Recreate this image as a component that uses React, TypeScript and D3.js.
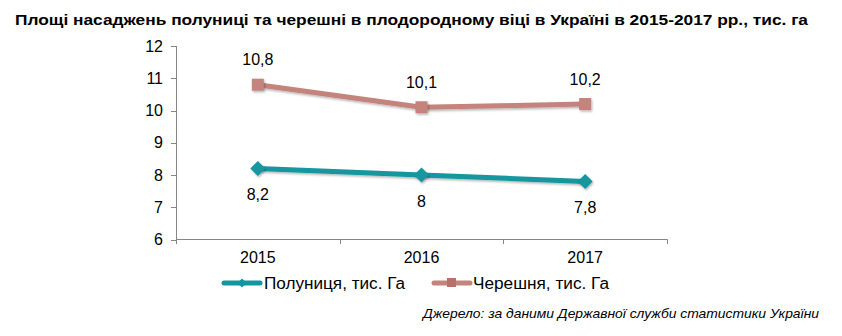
import React from "react";
import * as d3 from "d3";

const years = ["2015", "2016", "2017"];
const strawberry = [8.2, 8.0, 7.8];
const cherry = [10.8, 10.1, 10.2];
const strawberryLabels = ["8,2", "8", "7,8"];
const cherryLabels = ["10,8", "10,1", "10,2"];
const yTicks = [6, 7, 8, 9, 10, 11, 12];
const seriesNames = ["Полуниця, тис. Га", "Черешня, тис. Га"];
const title = "Площі насаджень полуниці та черешні в плодородному віці в Україні в 2015-2017 рр., тис. га";
const source = "Джерело: за даними Державної служби статистики України";

const W = 842;
const H = 336;
const TEAL = "#12969f";
const ROSE = "#c4837b";
const FONT = "Liberation Sans, Arial, sans-serif";
const FS = 16;

export default function App() {
  const x = d3.scaleBand<string>().domain(years).range([176, 667]);
  const y = d3.scaleLinear().domain([6, 12]).range([239.5, 46]);
  const cx = (d: string) => (x(d) as number) + x.bandwidth() / 2;
  const line = d3
    .line<number>()
    .x((_, i) => cx(years[i]))
    .y((v) => y(v));
  const boundaries = [...years.map((d) => x(d) as number), 667];

  return (
    <svg
      width={W}
      height={H}
      style={{ position: "absolute", left: 0, top: 0, background: "#fff" }}
      fontFamily={FONT}
    >
      <defs>
        <filter id="sh" x="-50%" y="-50%" width="200%" height="200%">
          <feDropShadow dx="1" dy="1.5" stdDeviation="1" floodColor="#000" floodOpacity="0.3" />
        </filter>
      </defs>
      <rect width={W} height={H} fill="#fff" />
      <text
        x={15}
        y={25}
        fontSize={14.5}
        fontWeight="bold"
        fill="#000"
        textLength={793}
        lengthAdjust="spacingAndGlyphs"
      >
        {title}
      </text>

      {/* y axis */}
      <line x1={176.5} x2={176.5} y1={46} y2={240} stroke="#868686" />
      {yTicks.map((t) => (
        <g key={t}>
          <line x1={171} x2={176.5} y1={Math.round(y(t)) + 0.5} y2={Math.round(y(t)) + 0.5} stroke="#868686" />
          <text x={163} y={y(t)} dy="0.35em" textAnchor="end" fontSize={FS} fill="#000">
            {t}
          </text>
        </g>
      ))}
      {/* x axis */}
      <line x1={176} x2={667.5} y1={239.5} y2={239.5} stroke="#868686" />
      {boundaries.map((b, i) => (
        <line key={i} x1={Math.round(b) + 0.5} x2={Math.round(b) + 0.5} y1={239.5} y2={244} stroke="#868686" />
      ))}
      {years.map((d) => (
        <text key={d} x={cx(d)} y={263} textAnchor="middle" fontSize={FS} fill="#000">
          {d}
        </text>
      ))}

      {/* cherry */}
      <path d={line(cherry) as string} fill="none" stroke={ROSE} strokeWidth={5} filter="url(#sh)" />
      {cherry.map((v, i) => (
        <rect
          key={i}
          x={cx(years[i]) - 6}
          y={y(v) - 6}
          width={12}
          height={12}
          fill={ROSE}
          filter="url(#sh)"
        />
      ))}
      {cherry.map((v, i) => (
        <text key={i} x={cx(years[i])} y={y(v) - 19.5} textAnchor="middle" fontSize={FS} fill="#000">
          {cherryLabels[i]}
        </text>
      ))}

      {/* strawberry */}
      <path d={line(strawberry) as string} fill="none" stroke={TEAL} strokeWidth={5} filter="url(#sh)" />
      {strawberry.map((v, i) => (
        <path
          key={i}
          d={`M${cx(years[i])},${y(v) - 7.5}l7.5,7.5l-7.5,7.5l-7.5,-7.5z`}
          fill={TEAL}
          filter="url(#sh)"
        />
      ))}
      {strawberry.map((v, i) => (
        <text key={i} x={cx(years[i])} y={y(v) + 31.5} textAnchor="middle" fontSize={FS} fill="#000">
          {strawberryLabels[i]}
        </text>
      ))}

      {/* legend */}
      <g>
        <line x1={224} x2={260} y1={283} y2={283} stroke={TEAL} strokeWidth={5} strokeLinecap="round" />
        <path d={`M242,${283 - 4.5}l4.5,4.5l-4.5,4.5l-4.5,-4.5z`} fill={TEAL} />
        <text
          x={264}
          y={289}
          fontSize={FS}
          fill="#000"
          textLength={141}
          lengthAdjust="spacingAndGlyphs"
        >
          {seriesNames[0]}
        </text>
        <line x1={434} x2={470} y1={283} y2={283} stroke={ROSE} strokeWidth={5} strokeLinecap="round" />
        <rect x={447} y={278} width={9} height={9} fill="#b8716a" />
        <text
          x={473}
          y={289}
          fontSize={FS}
          fill="#000"
          textLength={136}
          lengthAdjust="spacingAndGlyphs"
        >
          {seriesNames[1]}
        </text>
      </g>

      <text
        x={423}
        y={318}
        fontSize={13}
        fontStyle="italic"
        fill="#000"
        textLength={396}
        lengthAdjust="spacingAndGlyphs"
      >
        {source}
      </text>
    </svg>
  );
}
